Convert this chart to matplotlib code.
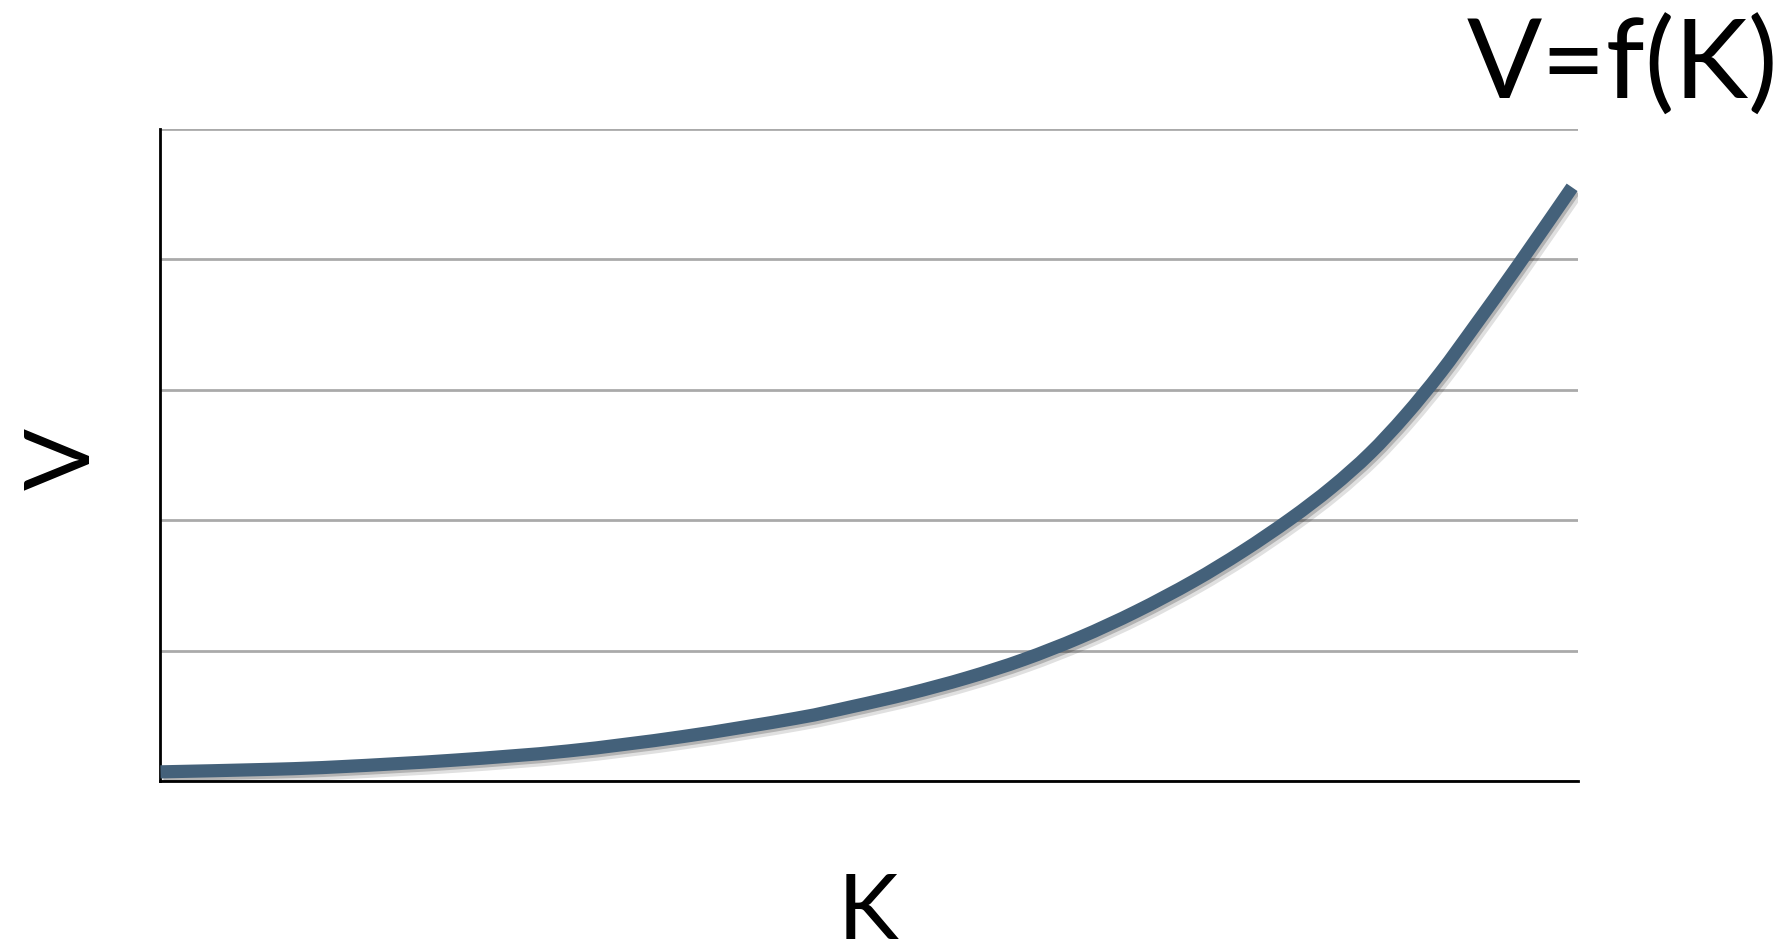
import matplotlib.pyplot as plt
import matplotlib.patheffects as pe
from matplotlib.path import Path
from matplotlib.patches import PathPatch

# K positions (0-100) and V values (grid units)
k = [0, 8, 12.8, 20.8, 28.8, 36.9, 44.9, 48.9, 52.9, 57.0, 61.0, 65.0,
     69.0, 73.0, 76.5, 79.9, 82.8, 85.5, 88.0, 90.5, 93.0, 95.9, 99.8]
v = [0.07, 0.09, 0.11, 0.16, 0.23, 0.34, 0.48, 0.57, 0.67, 0.79, 0.93, 1.10,
     1.30, 1.53, 1.76, 2.01, 2.25, 2.51, 2.80, 3.13, 3.50, 3.94, 4.55]
grid_levels = [0, 1, 2, 3, 4, 5]

font = ['Lato', 'DejaVu Sans']

# smoothed line through the points (like a spreadsheet "smooth line")
pts = list(zip(k, v))
verts = [pts[0]]
codes = [Path.MOVETO]
for i in range(len(pts) - 1):
    p0 = pts[i - 1] if i > 0 else pts[i]
    p1 = pts[i]
    p2 = pts[i + 1]
    p3 = pts[i + 2] if i + 2 < len(pts) else pts[i + 1]
    c1 = (p1[0] + (p2[0] - p0[0]) / 6, p1[1] + (p2[1] - p0[1]) / 6)
    c2 = (p2[0] - (p3[0] - p1[0]) / 6, p2[1] - (p3[1] - p1[1]) / 6)
    verts += [c1, c2, p2]
    codes += [Path.CURVE4] * 3

fig = plt.figure(figsize=(17.85, 9.43), dpi=100)
ax = fig.add_axes([0.0899, 0.1718, 0.794, 0.6918])

line = PathPatch(Path(verts, codes), fill=False, edgecolor='#44617a', lw=9.5,
                 capstyle='butt', joinstyle='round', zorder=3,
                 path_effects=[pe.SimpleLineShadow(offset=(2.5, -3), alpha=0.12, linewidth=12),
                               pe.SimpleLineShadow(offset=(1.5, -2), alpha=0.2),
                               pe.Normal()])
ax.add_patch(line)

ax.set_xlim(0, 100.2)
ax.set_ylim(0, 5)
ax.set_yticks(grid_levels)
ax.yaxis.grid(True, color='#aaaaaa', lw=2)
ax.set_axisbelow(True)
ax.tick_params(left=False, bottom=False, labelleft=False, labelbottom=False)
ax.set_xticks([])
for s in ['top', 'right']:
    ax.spines[s].set_visible(False)
ax.spines['left'].set_linewidth(2)
ax.spines['bottom'].set_linewidth(2)

fig.text(0.036, 0.513, 'V', rotation=90, fontsize=66, family=font,
         ha='center', va='center')
fig.text(0.486, 0.031, 'K', fontsize=66, family=font, ha='center', va='center')
fig.text(0.996, 0.929, 'V=f(K)', fontsize=80, family=font, ha='right', va='center')

fig.savefig('out.png', dpi=100)
